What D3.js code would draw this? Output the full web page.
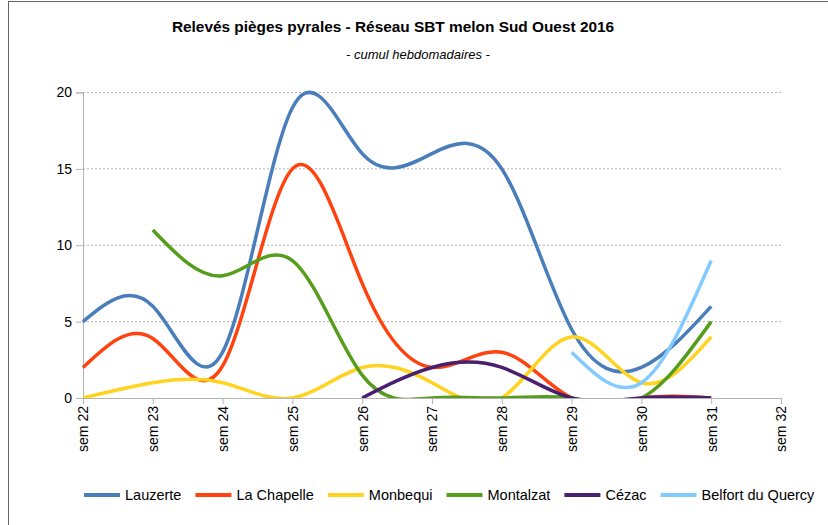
<!DOCTYPE html>
<html>
<head>
<meta charset="utf-8">
<script src="https://cdn.jsdelivr.net/npm/d3@7"></script>
<style>
  html, body { margin: 0; padding: 0; background: #fff; }
  svg { display: block; font-family: "Liberation Sans", Arial, sans-serif; }
</style>
</head>
<body>
<svg id="chart" width="828" height="525"></svg>
<script>
const title = "Relevés pièges pyrales - Réseau SBT melon Sud Ouest 2016";
const subtitle = "- cumul hebdomadaires -";
const categories = ["sem 22","sem 23","sem 24","sem 25","sem 26","sem 27","sem 28","sem 29","sem 30","sem 31","sem 32"];
const yTicks = [0, 5, 10, 15, 20];
const seriesNames = ["Lauzerte","La Chapelle","Monbequi","Montalzat","Cézac","Belfort du Quercy"];
const lauzerte  = [5, 6, 3, 19, 16, 16, 15, 4.5, 2, 6, null];
const laChapelle = [2, 3.9, 2.1, 15, 7.5, 2, 3, 0, 0, 0, null];
const monbequi  = [0, 1, 1, 0, 2, 1, 0, 4, 1, 4, null];
const montalzat = [null, 11, 8, 9, 1.5, 0, 0, 0, 0, 5, null];
const cezac     = [null, null, null, null, 0, 2, 2, 0, 0, 0, null];
const belfort   = [null, null, null, null, null, null, null, 3, 1, 9, null];
const colors = ["#4a7ebb","#ff420e","#ffd320","#579d1c","#4b1f6f","#83caff"];

const seriesValues = [lauzerte, laChapelle, monbequi, montalzat, cezac, belfort];

(function () {
const svg = d3.select("#chart");
const pLeft = 83, pRight = 781, pTop = 92.5, pBottom = 398;

// outer border
svg.append("rect").attr("x", 8.5).attr("y", 1.5).attr("width", 830).attr("height", 540)
  .attr("fill", "none").attr("stroke", "#666").attr("stroke-width", 1);

const x = d3.scalePoint().domain(categories).range([pLeft, pRight]);
const y = d3.scaleLinear().domain([0, 20]).range([pBottom, pTop]);

// gridlines
svg.append("g").selectAll("line").data(yTicks.filter(d => d > 0)).join("line")
  .attr("x1", pLeft).attr("x2", pRight)
  .attr("y1", d => y(d)).attr("y2", d => y(d))
  .attr("stroke", "#b3b3b3").attr("stroke-width", 1).attr("stroke-dasharray", "2,2");

// y axis
const yAxis = d3.axisLeft(y).tickValues(yTicks).tickSize(7).tickPadding(4);
const gy = svg.append("g").attr("transform", `translate(${pLeft},0)`).call(yAxis);
gy.select(".domain").attr("stroke", "#b3b3b3");
gy.selectAll(".tick line").attr("stroke", "#b3b3b3");
gy.selectAll(".tick text").attr("font-size", 14).attr("fill", "#000")
  .attr("font-family", "Liberation Sans, Arial, sans-serif");

// x axis
const xAxis = d3.axisBottom(x).tickSize(6).tickSizeOuter(0);
const gx = svg.append("g").attr("transform", `translate(0,${pBottom})`).call(xAxis);
gx.select(".domain").attr("stroke", "#b3b3b3");
gx.selectAll(".tick line").attr("stroke", "#b3b3b3");
gx.selectAll(".tick text").attr("font-size", 14).attr("fill", "#000")
  .attr("font-family", "Liberation Sans, Arial, sans-serif")
  .attr("text-anchor", "end")
  .attr("transform", "translate(0,8) rotate(-90)")
  .attr("x", 0).attr("y", 0).attr("dy", "0.35em");

// clip
svg.append("defs").append("clipPath").attr("id", "plotclip")
  .append("rect").attr("x", pLeft - 3).attr("y", pTop - 10).attr("width", pRight - pLeft + 6).attr("height", pBottom - pTop + 10);

const line = d3.line()
  .defined(d => d.v != null)
  .x(d => x(d.c))
  .y(d => y(d.v))
  .curve(d3.curveNatural);

const gl = svg.append("g").attr("clip-path", "url(#plotclip)");
seriesValues.forEach((vals, i) => {
  const pts = categories.map((c, j) => ({c, v: vals[j]}));
  gl.append("path").attr("d", line(pts))
    .attr("fill", "none").attr("stroke", colors[i]).attr("stroke-width", 3.5)
    .attr("stroke-linejoin", "round");
});

// title
svg.append("text").attr("x", 393).attr("y", 32).attr("text-anchor", "middle")
  .attr("font-size", 15.4).attr("font-weight", "bold").attr("fill", "#000").text(title);
svg.append("text").attr("x", 418).attr("y", 59).attr("text-anchor", "middle")
  .attr("font-size", 13).attr("font-style", "italic").attr("fill", "#000").text(subtitle);

// legend
const legend = svg.append("g");
const ly = 495;
const items = legend.selectAll("g").data(seriesNames).join("g");
items.append("line").attr("x1", 0).attr("x2", 36).attr("y1", ly).attr("y2", ly)
  .attr("stroke", (d, i) => colors[i]).attr("stroke-width", 4);
items.append("text").attr("x", 41).attr("y", ly).attr("dy", "0.35em")
  .attr("font-size", 14.5).attr("fill", "#000").text(d => d);
let cx = 84;
items.each(function() {
  const g = d3.select(this);
  g.attr("transform", `translate(${cx},0)`);
  const w = g.select("text").node().getComputedTextLength();
  cx += 41 + w + 14;
});
})();
</script>
</body>
</html>
